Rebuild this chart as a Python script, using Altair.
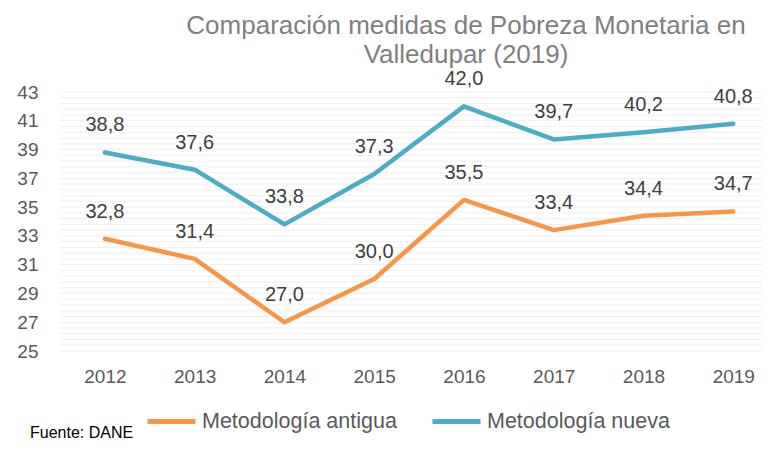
import altair as alt
import pandas as pd
import numpy as np

years = [2012, 2013, 2014, 2015, 2016, 2017, 2018, 2019]
antigua = [32.8, 31.4, 27.0, 30.0, 35.5, 33.4, 34.4, 34.7]
nueva = [38.8, 37.6, 33.8, 37.3, 42.0, 39.7, 40.2, 40.8]
series_names = ["Metodología antigua", "Metodología nueva"]
colors = ["#F79646", "#4BACC6"]
y_ticks = [25, 27, 29, 31, 33, 35, 37, 39, 41, 43]

rows = []
for name, vals in zip(series_names, [antigua, nueva]):
    for yr, v in zip(years, vals):
        rows.append({"year": yr, "serie": name, "valor": v,
                     "label": f"{v:.1f}".replace(".", ",")})
df = pd.DataFrame(rows)

minor = pd.DataFrame({"g": np.round(np.arange(25, 43.01, 0.4), 2)})

W, H = 702, 259
FONT = "Liberation Sans"

xscale = alt.Scale(domain=[2011.5, 2019.32], nice=False, zero=False)
yscale = alt.Scale(domain=[25, 43], nice=False, zero=False)

minor_grid = alt.Chart(minor).mark_rule(color="#f0f0f0", strokeWidth=1).encode(
    y=alt.Y("g:Q", scale=yscale, axis=None)
)

base = alt.Chart(df)

lines = base.mark_line(strokeWidth=4.5, strokeCap="round", strokeJoin="round").encode(
    x=alt.X("year:Q", scale=xscale,
            axis=alt.Axis(values=years, format="d", title=None, grid=False, domain=False,
                          ticks=False, labelFontSize=19, labelColor="#595959",
                          labelFont=FONT, labelPadding=16, labelOverlap=False,
                          tickCount=20)),
    y=alt.Y("valor:Q", scale=yscale,
            axis=alt.Axis(values=y_ticks, tickCount=20, title=None, domain=False,
                          ticks=False, labelFontSize=19, labelColor="#595959",
                          labelFont=FONT, labelPadding=22, gridColor="#d9d9d9",
                          gridWidth=1, labelOverlap=False, labelBound=False)),
    color=alt.Color("serie:N",
                    scale=alt.Scale(domain=series_names, range=colors),
                    legend=alt.Legend(title=None, orient="none", legendX=85, legendY=303,
                                      direction="horizontal", symbolType="stroke",
                                      symbolStrokeWidth=5, symbolSize=2304,
                                      labelFontSize=21.5, labelColor="#595959",
                                      labelFont=FONT, columnPadding=25, labelOffset=4,
                                      symbolOffset=0, labelLimit=0)),
)

labels = base.mark_text(fontSize=20, color="#404040", font=FONT, dy=-27,
                        baseline="middle").encode(
    x=alt.X("year:Q", scale=xscale),
    y=alt.Y("valor:Q", scale=yscale),
    text="label:N",
)

source = alt.Chart(pd.DataFrame({"t": ["Fuente: DANE"]})).mark_text(
    fontSize=16, color="#000000", font=FONT, align="left", baseline="middle"
).encode(x=alt.value(-30), y=alt.value(341), text="t:N")

chart = alt.layer(minor_grid, alt.layer(lines, labels), source).resolve_scale(
    y="independent"
).properties(
    width=W, height=H,
    autosize=alt.AutoSizeParams(type="none"),
    padding={"left": 52, "top": 84, "right": 0, "bottom": 91},
    title=alt.TitleParams(
        text=["Comparación medidas de Pobreza Monetaria en", "Valledupar (2019)"],
        fontSize=26, color="#7f7f7f", font=FONT, fontWeight="normal",
        anchor="middle", dx=55, offset=1, lineHeight=29,
    ),
).configure_view(stroke=None)

chart.save("out.html", embed_options={"renderer": "svg", "actions": False})
